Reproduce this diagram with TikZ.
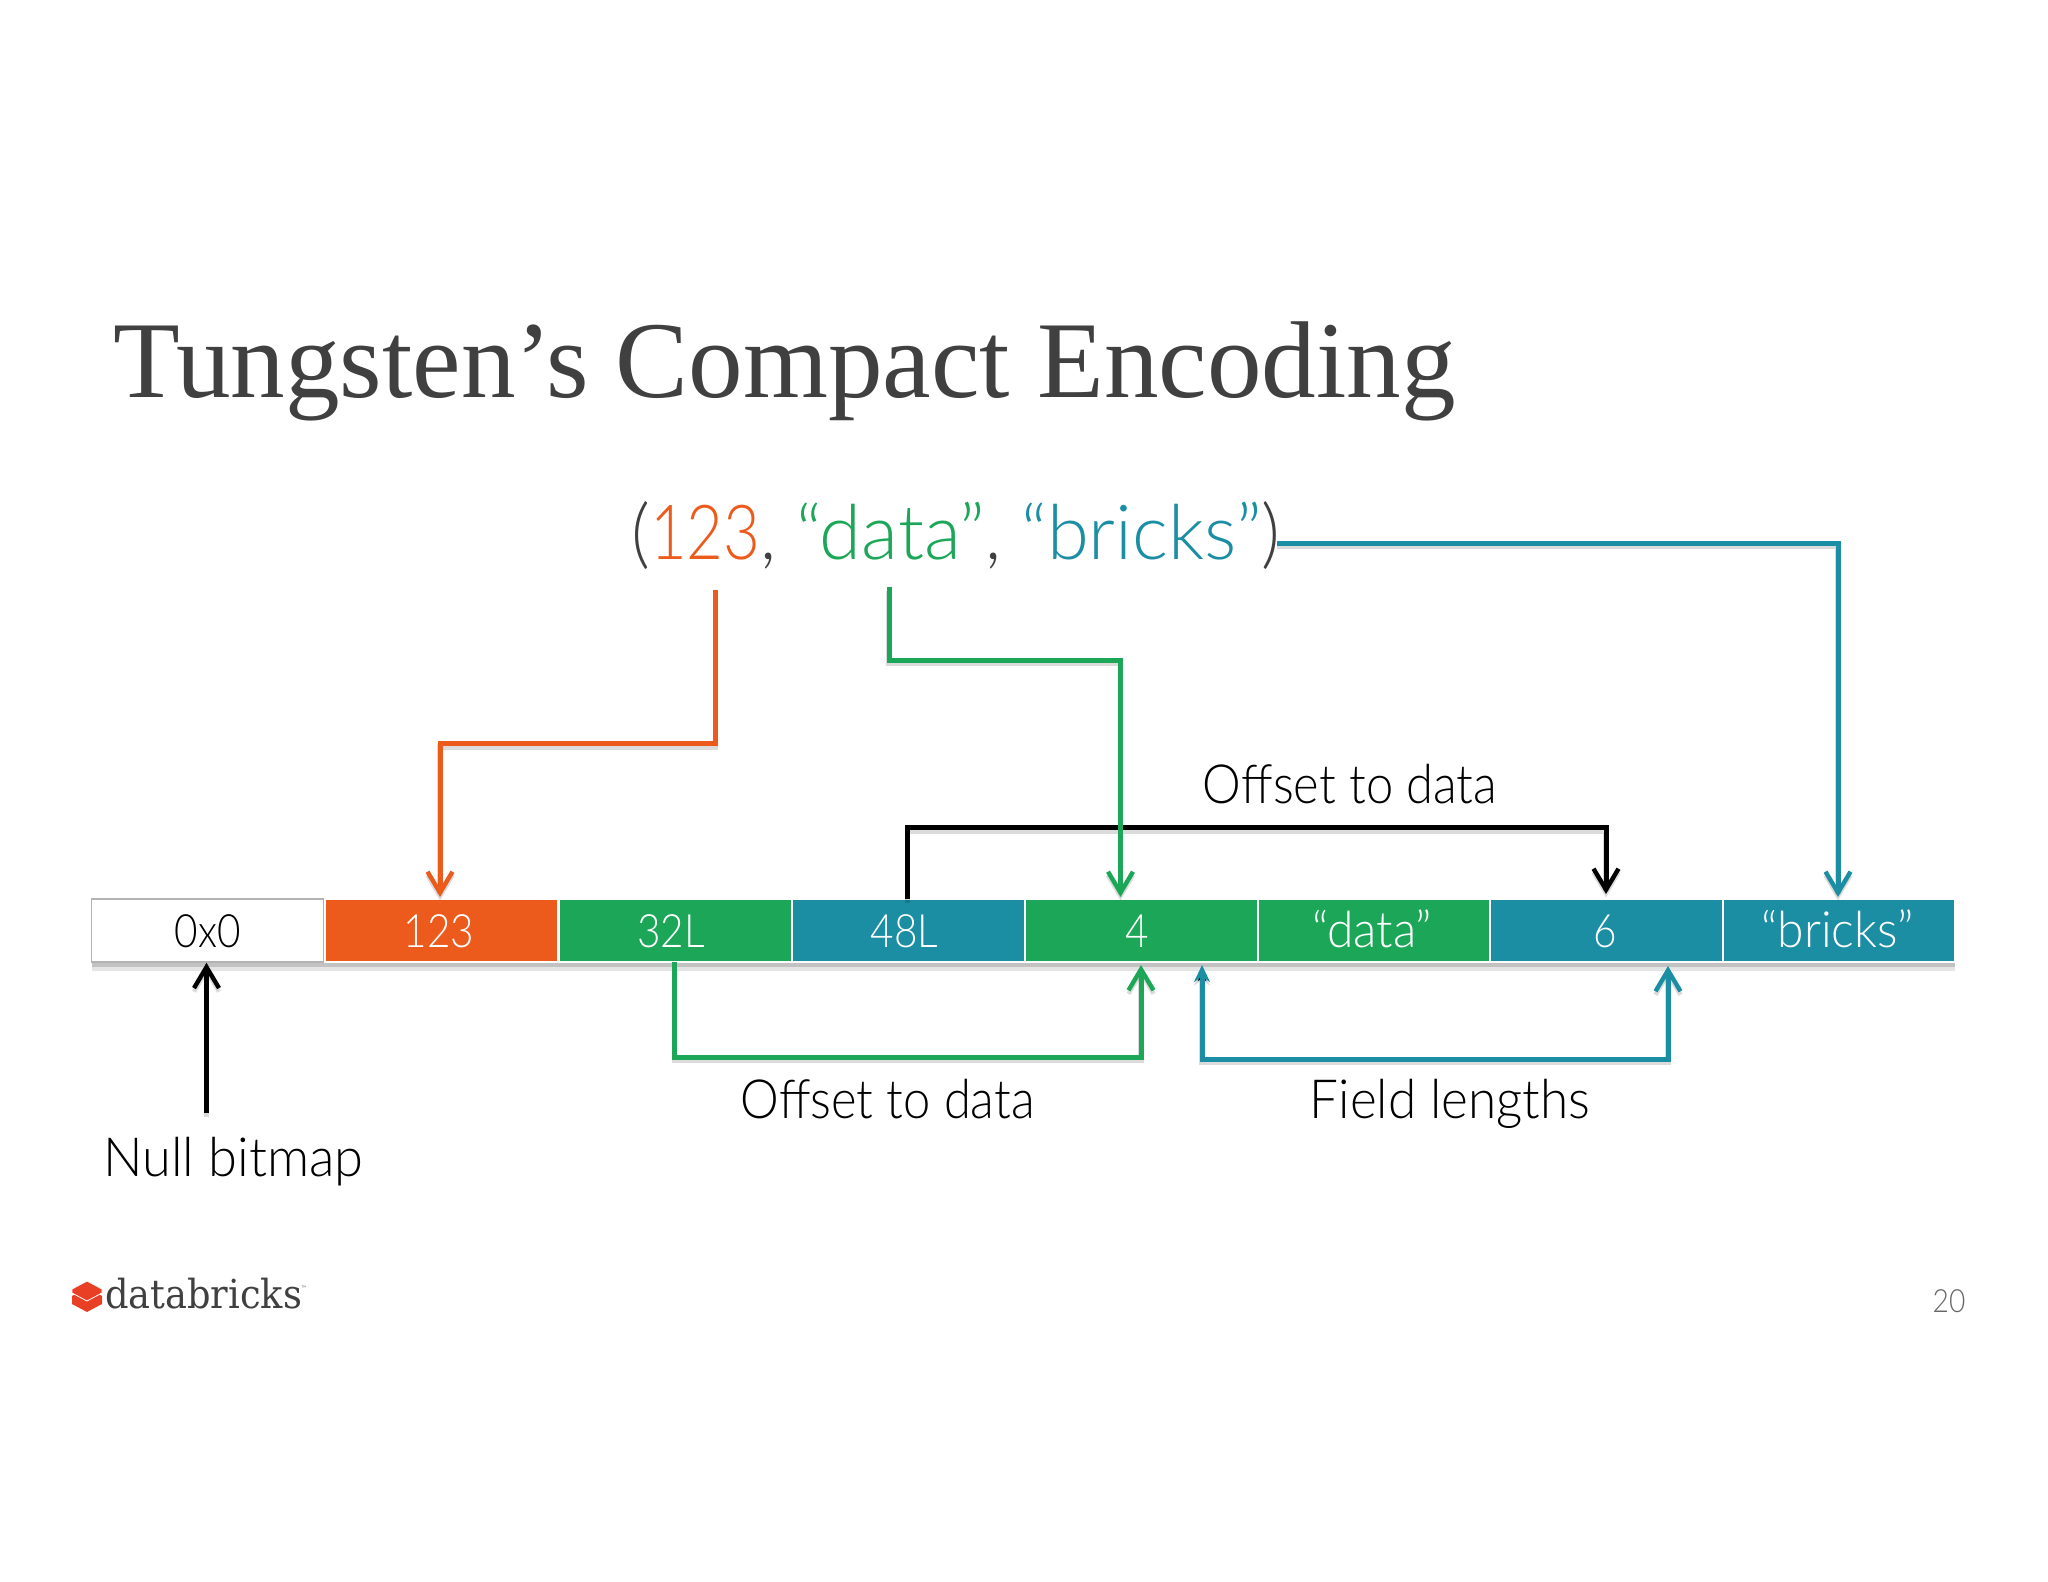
\documentclass[tikz,border=0pt]{standalone}
\usepackage{fontspec}
\usetikzlibrary{arrows.meta}
\setmainfont{Lato}[UprightFont=* Light,FakeStretch=0.88]
\newfontfamily\lOff{Lato}[UprightFont=* Light,FakeStretch=0.905]
\newfontfamily\lField{Lato}[UprightFont=* Light,FakeStretch=0.95]
\newfontfamily\lNull{Lato}[UprightFont=* Light,FakeStretch=0.97]
\newfontfamily\lWide{Lato}[UprightFont=* Light,FakeStretch=0.96]
\newfontfamily\lDig{Lato}[UprightFont=* Light,FakeStretch=0.835]
\newfontfamily\lWord{Lato}[UprightFont=* Light,FakeStretch=1.0]
\newfontfamily\titlefont{Liberation Serif}
\newfontfamily\logofont{DejaVu Serif}[FakeStretch=0.92]
\definecolor{cOrange}{HTML}{EC5A1C}
\definecolor{cGreen}{HTML}{1CA758}
\definecolor{cTeal}{HTML}{1C8EA3}
\definecolor{cTitle}{HTML}{404040}
\definecolor{cLogo}{HTML}{E93F24}
\newcommand{\fs}[1]{\fontsize{#1}{#1}\selectfont}
\tikzset{
  x=1pt,y=-1pt,
  cellbox/.style={draw=white,line width=1.6pt,minimum width=232.5pt,minimum height=63pt,inner sep=0pt,
    text=white,font=\fs{46},text height=34pt,text depth=0pt,anchor=center},
  lbl/.style={anchor=base,inner sep=0pt,text=black},
  conn/.style={line width=5pt,line join=miter,
    preaction={draw=black,draw opacity=.14,line width=5.5pt,transform canvas={yshift=-3.5pt}},
    -{Straight Barb[length=21pt,width=25pt,line width=4.4pt]}},
}
\begin{document}
\begin{tikzpicture}
\useasboundingbox (0,0) rectangle (2048,1582);
% bar shadow
\fill[black,opacity=.24] (92,960) rectangle (1955,967);
\fill[black,opacity=.10] (92,967) rectangle (1955,971);
% cells
\node[cellbox,draw=black!30,text=black,fill=white] (c0) at (207.7,930.5) {0x0};
\node[cellbox,fill=cOrange] (c1) at (441.5,930.5) {123\kern5pt};
\node[cellbox,fill=cGreen] (c2) at (675.5,930.5) {32L\kern9pt};
\node[cellbox,fill=cTeal] (c3) at (908.5,930.5) {48L\kern8pt};
\node[cellbox,fill=cGreen] (c4) at (1141.5,930.5) {4\kern8pt};
\node[cellbox,fill=cGreen,font=\lWide\fs{50}] (c5) at (1374,930.5) {“data”\kern4pt};
\node[cellbox,fill=cTeal] (c6) at (1606.5,930.5) {6\kern3pt};
\node[cellbox,fill=cTeal,font=\lWide\fs{50}] (c7) at (1839,930.5) {“bricks”\kern3pt};
% title
\node[anchor=base west,inner sep=0pt,text=cTitle,font=\titlefont\fs{109.2}] (title) at (113,397) {Tungsten’s Compact Encoding};
% tuple
\node[anchor=base,inner sep=0pt,font=\lWide\fs{76},text=cTitle] (tuple) at (956,559)
  {(\textcolor{cOrange}{\lDig 123}, \textcolor{cGreen}{\lWord “data”}, \textcolor{cTeal}{\lWord “bricks”})};
% labels
\node[lbl,font=\lNull\fs{54}] (lnull) at (233.5,1176.5) {Null bitmap};
\node[lbl,font=\lOff\fs{54}] (loff1) at (887.5,1118) {Offset to data};
\node[lbl,font=\lField\fs{54}] (lfield) at (1450,1118) {Field lengths};
\node[lbl,font=\lOff\fs{54}] (loff2) at (1350,803) {Offset to data};
\node[anchor=base,inner sep=0pt,font=\fs{32},text=black!60] (pg) at (1949,1312) {20};
% logo
\node[anchor=base west,inner sep=0pt,font=\logofont\fs{40},text=cTitle] (logo) at (105,1308) {databricks};
\node[anchor=base west,inner sep=0pt,font=\logofont\fs{6},text=cTitle] (tm) at (301,1290) {™};
\fill[cLogo] (72,1296) -- (87,1288) -- (102,1296) -- (102,1304) -- (87,1312) -- (72,1304) -- cycle;
\fill[cLogo,draw=white,line width=.8pt] (72,1289) -- (87,1281) -- (102,1289) -- (102,1293) -- (87,1301) -- (72,1293) -- cycle;
% free ends
\coordinate (sTuple) at (1277,543);
\coordinate (sOrange) at (715.5,590);
\coordinate (sGreen) at (889,587);
\coordinate (sNull) at (206.5,1113);
\coordinate (tTeal) at (1838,897);
\coordinate (tOrange) at (440,897);
\coordinate (tGreen) at (1120.5,897);
\coordinate (tBlack) at (1606,894);
\coordinate (sBlack) at (907.5,899);
\coordinate (sG2) at (674.5,962);
\coordinate (tG2) at (1141,965);
\coordinate (sT2) at (1202,965);
\coordinate (tT2) at (1668,966);
\coordinate (mO) at (0,743.5);
\coordinate (mG) at (0,660);
\coordinate (mB) at (0,827.5);
\coordinate (mG2) at (0,1057);
\coordinate (mT2) at (0,1059);
% connectors
\draw[conn,draw=cTeal] (sTuple) -- (sTuple -| tTeal) -- (tTeal);
\draw[conn,draw=cOrange] (sOrange) -- (sOrange |- mO) -- (tOrange |- mO) -- (tOrange);
\draw[conn,draw=black] (sBlack) -- (sBlack |- mB) -- (tBlack |- mB) -- (tBlack);
\draw[conn,draw=cGreen] (sGreen) -- (sGreen |- mG) -- (tGreen |- mG) -- (tGreen);
\draw[conn,draw=cGreen] (sG2) -- (sG2 |- mG2) -- (tG2 |- mG2) -- (tG2);
\draw[conn,draw=cTeal,{Stealth[length=17pt,width=16pt]}-{Straight Barb[length=21pt,width=25pt,line width=4.4pt]}] (sT2) -- (sT2 |- mT2) -- (tT2 |- mT2) -- (tT2);
\draw[conn,draw=black] (sNull) -- (sNull |- c0.south);
\end{tikzpicture}
\end{document}
